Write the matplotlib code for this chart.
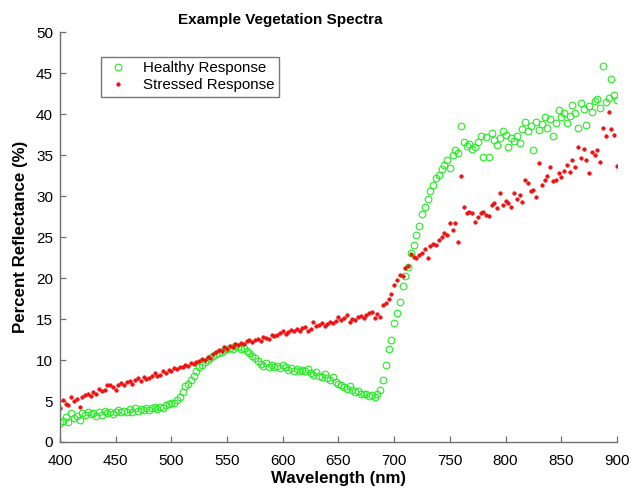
import numpy as np
import matplotlib
matplotlib.use("Agg")
import matplotlib.pyplot as plt

plt.rcParams['font.family'] = ['Liberation Sans', 'DejaVu Sans']

# wavelength grid (nm), sampled every 2.5 nm
wavelength = np.arange(400, 900.1, 2.5)

# percent reflectance
healthy = [
    2.3, 2.6, 3.1, 2.4, 3.5, 2.9, 3.2, 2.7, 3.5, 3.3,
    3.6, 3.4, 3.5, 3.2, 3.6, 3.3, 3.8, 3.5, 3.7, 3.4,
    3.7, 3.9, 3.6, 3.8, 3.7, 4.0, 3.6, 4.1, 3.8, 4.0,
    3.9, 4.2, 3.9, 4.1, 4.3, 4.0, 4.3, 4.2, 4.5, 4.6,
    4.7, 4.8, 5.1, 5.5, 6.1, 6.8, 7.1, 7.6, 8.0, 8.6,
    9.1, 9.4, 9.8, 10.0, 10.2, 10.5, 10.7, 10.9, 11.0, 11.2,
    11.3, 11.5, 11.4, 11.7, 11.6, 11.4, 11.5, 11.1, 10.9, 10.5,
    10.2, 9.9, 9.5, 9.3, 9.6, 9.2, 9.4, 9.1, 9.3, 9.0,
    9.4, 9.1, 8.8, 9.0, 8.7, 8.9, 8.6, 8.8, 8.6, 8.9,
    8.4, 8.2, 8.5, 8.1, 7.9, 8.3, 7.8, 7.6, 7.9, 7.3,
    7.1, 7.0, 6.7, 6.5, 6.8, 6.3, 6.1, 6.2, 5.9, 5.8,
    5.9, 5.6, 5.7, 5.5, 5.8, 6.3, 7.6, 9.4, 11.4, 12.4,
    14.5, 15.7, 17.1, 19.0, 20.2, 21.4, 23.0, 24.0, 25.2, 26.3,
    27.8, 28.7, 29.6, 30.6, 31.4, 32.2, 32.6, 33.3, 33.8, 34.4,
    33.4, 35.0, 35.6, 35.2, 38.6, 36.6, 36.1, 36.4, 35.7, 36.0,
    36.6, 37.3, 34.8, 37.2, 34.8, 37.7, 36.8, 36.2, 37.1, 37.9,
    37.4, 36.0, 37.1, 36.7, 37.3, 36.5, 38.2, 39.1, 37.9, 38.6,
    35.6, 39.1, 38.1, 38.8, 39.7, 38.3, 39.4, 37.3, 38.9, 40.5,
    39.7, 40.2, 38.9, 39.8, 41.1, 40.1, 38.3, 41.3, 40.6, 38.7,
    41.0, 40.3, 41.6, 41.9, 40.8, 45.9, 41.5, 42.0, 44.3, 42.3,
    41.7,
]

stressed = [
    4.1, 5.1, 4.6, 4.5, 5.5, 5.0, 5.3, 4.3, 5.5, 5.7,
    5.9, 5.6, 6.1, 5.8, 6.5, 6.2, 6.4, 6.9, 7.0, 6.7,
    6.3, 7.0, 7.2, 6.9, 7.3, 7.4, 7.1, 7.6, 7.8, 7.5,
    7.9, 7.7, 7.8, 8.1, 8.4, 8.0, 8.2, 8.6, 8.4, 8.8,
    8.7, 9.0, 8.9, 9.2, 9.1, 9.4, 9.3, 9.6, 9.5, 9.8,
    9.9, 10.1, 10.0, 10.4, 10.3, 10.7, 11.0, 11.2, 11.1, 11.6,
    11.4, 11.7, 11.6, 12.0, 11.8, 12.1, 12.0, 12.3, 12.4, 12.2,
    12.4, 12.6, 12.3, 12.8, 12.7, 12.6, 13.0, 12.9, 13.1, 13.3,
    13.5, 13.2, 13.4, 13.7, 13.5, 13.8, 13.6, 13.9, 14.0, 13.5,
    13.8, 14.7, 14.1, 14.3, 14.5, 14.2, 14.4, 14.7, 14.5, 14.8,
    15.3, 14.9, 15.1, 15.5, 14.7, 15.0, 14.9, 15.2, 15.4, 15.1,
    15.5, 15.7, 15.9, 15.1, 15.6, 15.3, 16.7, 16.9, 17.4, 18.1,
    19.2, 19.8, 20.4, 20.2, 21.2, 21.5, 22.9, 22.6, 22.4, 22.8,
    23.1, 23.6, 22.4, 23.9, 24.2, 24.0, 24.6, 25.0, 25.5, 25.2,
    26.7, 25.9, 26.7, 24.4, 32.4, 28.7, 27.9, 28.0, 27.9, 26.9,
    27.5, 27.9, 28.1, 27.7, 27.6, 28.9, 29.1, 28.5, 30.4, 28.9,
    29.4, 29.1, 28.7, 30.4, 29.6, 30.1, 29.3, 32.0, 31.6, 30.6,
    30.8, 29.9, 34.0, 31.4, 32.0, 32.4, 33.6, 31.8, 32.0, 32.8,
    32.3, 33.1, 33.8, 32.9, 34.4, 33.5, 36.0, 34.6, 35.8, 34.4,
    32.8, 35.4, 35.0, 35.6, 34.2, 38.3, 37.3, 40.3, 38.2, 37.5,
    33.7,
]

fig = plt.figure(figsize=(6.31, 4.9), dpi=100)
ax = fig.add_axes([0.0951, 0.098, 0.8827, 0.8363])

ax.plot(wavelength, healthy, 'o', mfc='none', mec='#22ee22', ms=4.8, mew=0.8,
        label='Healthy Response', linestyle='none')
ax.plot(wavelength, stressed, 'o', mfc='#ee1111', mec='#ee1111', ms=2.6, mew=0.4,
        label='Stressed Response', linestyle='none')

ax.set_xlim(400, 900)
ax.set_ylim(0, 50)
ax.set_xticks(np.arange(400, 901, 50))
ax.set_yticks(np.arange(0, 51, 5))

for side in ['top', 'right']:
    ax.spines[side].set_visible(False)
for side in ['left', 'bottom']:
    ax.spines[side].set_color('#707070')
    ax.spines[side].set_linewidth(1.0)
ax.tick_params(direction='in', length=4.5, width=0.9, color='#707070',
               labelsize=11, labelcolor='black')
ax.tick_params(axis='x', pad=9)
ax.tick_params(axis='y', pad=5)

# title sits left of the axes centre in the reference
ax.set_title('Example Vegetation Spectra', fontsize=11, fontweight='bold', pad=6, x=0.395)
ax.set_xlabel('Wavelength (nm)', fontsize=12.2, fontweight='bold', labelpad=2)
ax.set_ylabel('Percent Reflectance (%)', fontsize=12.2, fontweight='bold', labelpad=6)

leg = ax.legend(loc='upper left', bbox_to_anchor=(0.0736, 0.940), borderaxespad=0,
                fancybox=False, fontsize=10.9, handlelength=1.6, handletextpad=0.9,
                borderpad=0.3, labelspacing=0.2, markerscale=1.0)
leg.get_frame().set_edgecolor('#555555')
leg.get_frame().set_linewidth(1.0)

fig.savefig('out.png', dpi=100)
